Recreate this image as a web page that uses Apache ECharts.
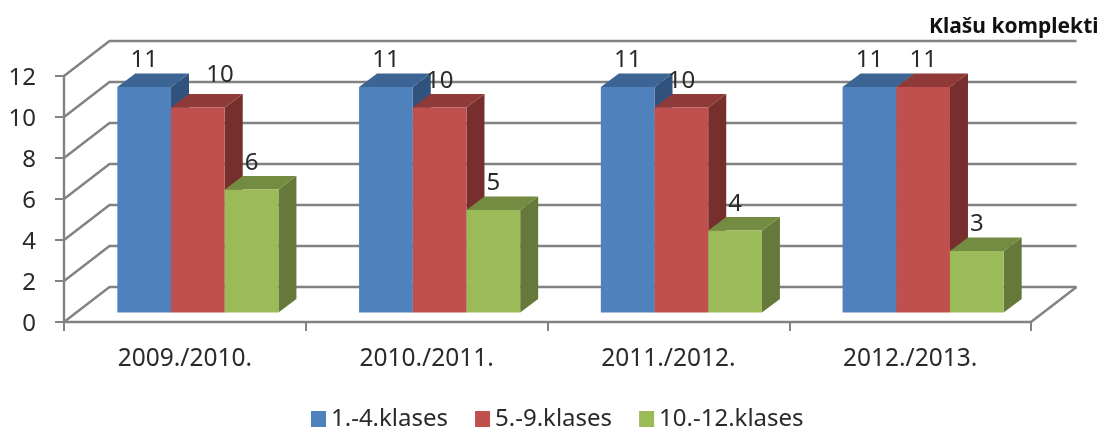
<!DOCTYPE html>
<html>
<head>
<meta charset="utf-8">
<script src="https://cdn.jsdelivr.net/npm/echarts@6/dist/echarts.min.js"></script>
<style>
  html, body { margin: 0; padding: 0; background: #fff; }
  #main { width: 1097px; height: 430px; }
</style>
</head>
<body>
<div id="main"></div>
<script>
var categories = ['2009./2010.', '2010./2011.', '2011./2012.', '2012./2013.'];
var seriesNames = ['1.-4.klases', '5.-9.klases', '10.-12.klases'];
var values1to4 = [11, 11, 11, 11];
var values5to9 = [10, 10, 10, 11];
var values10to12 = [6, 5, 4, 3];
var yTicks = [0, 2, 4, 6, 8, 10, 12];

var font = '"Noto Sans", sans-serif';
var gray = '#828282';
var textColor = '#2a2a2a';

// 假3D: 墙的进深, 柱子离前面的距离, 柱子本身的进深
var wallDx = 45.5, wallDy = -35;
var barDx = 13, barDy = -9.5;
var depthDx = 18, depthDy = -13.5;
var barWidth = 53.7;

// front, top, side
var colors = [
  ['#4F81BD', '#3C6494', '#31527C'],
  ['#C0504D', '#8F3A38', '#772F2D'],
  ['#9BBB59', '#748C42', '#657A3A']
];

function wallItem(params, api) {
  var r = params.coordSys;
  var y = api.coord([0, api.value(0)])[1];
  var points = [[r.x, y], [r.x + wallDx, y + wallDy], [r.x + r.width + wallDx, y + wallDy]];
  var children = [{
    type: 'polyline',
    shape: { points: points },
    style: { stroke: gray, lineWidth: 2.4, fill: null }
  }];
  // 地板右边那条
  if (api.value(0) === 0) {
    children.push({
      type: 'line',
      shape: { x1: r.x + r.width, y1: y, x2: r.x + r.width + wallDx, y2: y + wallDy },
      style: { stroke: gray, lineWidth: 2.4 }
    });
  }
  return { type: 'group', children: children };
}

function barItem(seriesIndex) {
  return function (params, api) {
    var idx = api.value(0);
    var val = api.value(1);
    var top = api.coord([idx, val]);
    var base = api.coord([idx, 0]);
    var x0 = top[0] + barDx + (seriesIndex - 1.5) * barWidth;
    var x1 = x0 + barWidth;
    var y0 = top[1] + barDy;
    var y1 = base[1] + barDy;
    var c = colors[seriesIndex];

    var labelX = x0 + barWidth / 2;
    var labelY = y0 - 26.5;
    // 第一组的10在原图里是挪开的
    if (seriesIndex === 1 && idx === 0) {
      labelX += 22;
      labelY -= 6;
    }

    return {
      type: 'group',
      children: [
        {
          type: 'polygon',
          shape: { points: [[x1, y0], [x1 + depthDx, y0 + depthDy], [x1 + depthDx, y1 + depthDy], [x1, y1]] },
          style: { fill: c[2] }
        },
        {
          type: 'polygon',
          shape: { points: [[x0, y0], [x0 + depthDx, y0 + depthDy], [x1 + depthDx, y0 + depthDy], [x1, y0]] },
          style: { fill: c[1] }
        },
        {
          type: 'rect',
          shape: { x: x0, y: y0, width: barWidth, height: y1 - y0 },
          style: { fill: c[0] }
        },
        {
          type: 'text',
          style: {
            text: String(val),
            x: labelX,
            y: labelY,
            align: 'center',
            verticalAlign: 'middle',
            font: '24px ' + font,
            fill: textColor
          }
        }
      ]
    };
  };
}

function toPairs(arr) {
  return arr.map(function (v, i) { return [i, v]; });
}

var myChart = echarts.init(document.getElementById('main'), null, { renderer: 'canvas' });

var barValues = [values1to4, values5to9, values10to12];
var series = [{
  name: 'walls',
  type: 'custom',
  z: 1,
  silent: true,
  clip: false,
  coordinateSystem: 'cartesian2d',
  renderItem: wallItem,
  encode: { y: 0 },
  data: yTicks.map(function (t) { return [t]; })
}];
for (var i = 0; i < seriesNames.length; i++) {
  series.push({
    name: seriesNames[i],
    type: 'custom',
    z: 2 + i,
    clip: false,
    coordinateSystem: 'cartesian2d',
    renderItem: barItem(i),
    itemStyle: { color: colors[i][0] },
    encode: { x: 0, y: 1 },
    data: toPairs(barValues[i])
  });
}

var option = {
  animation: false,
  backgroundColor: '#fff',
  title: {
    text: 'Klašu komplekti',
    left: 924,
    top: 12,
    textStyle: { fontFamily: font, fontSize: 21, fontWeight: 'bold', color: '#111' }
  },
  legend: {
    data: seriesNames,
    left: 311,
    top: 407,
    padding: 0,
    icon: 'rect',
    itemWidth: 15,
    itemHeight: 16,
    itemGap: 27,
    textStyle: { fontFamily: font, fontSize: 24, color: textColor }
  },
  grid: { left: 64, right: 66, top: 76, bottom: 108 },
  xAxis: {
    type: 'category',
    data: categories,
    boundaryGap: true,
    axisLine: { lineStyle: { color: gray, width: 2.4 } },
    axisTick: { show: true, length: 9, alignWithLabel: false, lineStyle: { color: gray, width: 2 } },
    axisLabel: { color: textColor, fontFamily: font, fontSize: 24.5, margin: 25 }
  },
  yAxis: {
    type: 'value',
    min: 0,
    max: 12,
    interval: 2,
    axisLine: { show: true, lineStyle: { color: gray, width: 2.4 } },
    axisTick: { show: true, length: 9, lineStyle: { color: gray, width: 2 } },
    // 数字比刻度略低一点
    axisLabel: { color: textColor, fontFamily: font, fontSize: 24, margin: 28, verticalAlign: 'top', lineHeight: 4 },
    splitLine: { show: false }
  },
  series: series
};

myChart.setOption(option);
</script>
</body>
</html>
